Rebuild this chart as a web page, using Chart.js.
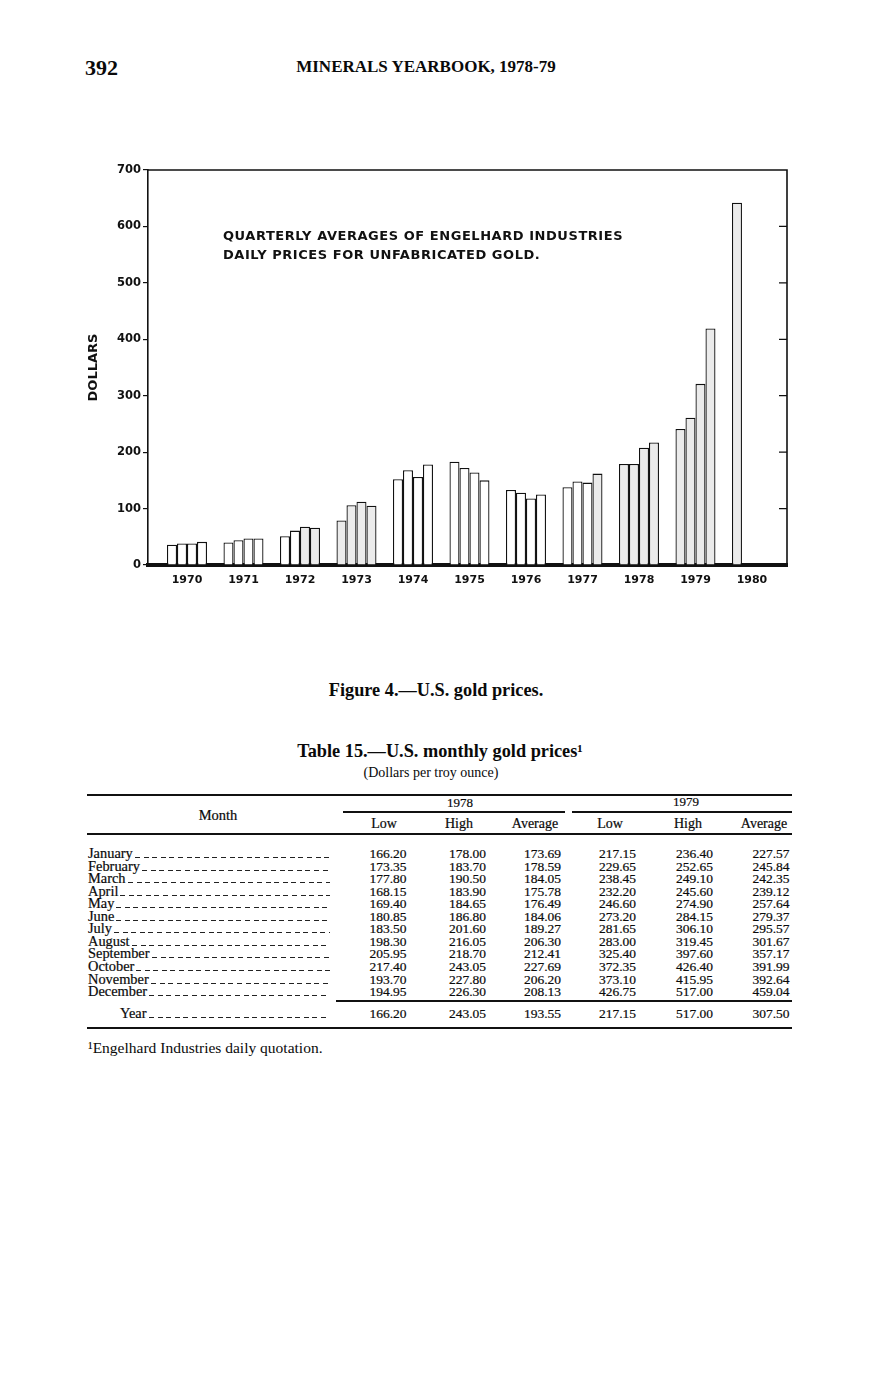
<!DOCTYPE html>
<html>
<head>
<meta charset="utf-8">
<script src="https://cdn.jsdelivr.net/npm/chart.js@4.4.0/dist/chart.umd.min.js"></script>
<style>
  body { margin: 0; background: #fff; }
  #page { position: relative; width: 875px; height: 1380px; color: #0a0a0a; font-family: "Liberation Serif", serif; overflow: hidden; }
  .t { position: absolute; white-space: nowrap; transform: translate(-50%, -50%); line-height: 1; }
  .l { position: absolute; white-space: nowrap; transform: translateY(-50%); line-height: 1; }
  .rule { position: absolute; background: #111; }
  #chartBox { position: absolute; left: 0; top: 130px; width: 875px; height: 480px; }
  #table { -webkit-text-stroke: 0.2px #0a0a0a; }
  .row { position: absolute; display: flex; align-items: flex-end; font-size: 14.4px; line-height: 13px; height: 13px; }
  .lead { flex: 1; height: 1px; margin: 0 0 2px 2px; background: repeating-linear-gradient(to right, #222 0 5px, transparent 5px 8.6px); }
</style>
</head>
<body>
<div id="page">
  <div class="l" style="left:85px; top:68px; font-size:22px; font-weight:bold;">392</div>
  <div class="t" style="left:426px; top:66px; font-size:17px; font-weight:bold;">MINERALS YEARBOOK, 1978-79</div>

  <div id="chartBox"><canvas id="goldChart"></canvas></div>

  <div class="t" style="left:436px; top:690px; font-size:18.3px; font-weight:bold;">Figure 4.—U.S. gold prices.</div>
  <div class="t" style="left:440px; top:751px; font-size:18.3px; font-weight:bold;">Table 15.—U.S. monthly gold prices¹</div>
  <div class="t" style="left:431px; top:773px; font-size:14px;">(Dollars per troy ounce)</div>

  <div id="table"></div>

  <div class="l" style="left:88px; top:1048px; font-size:15.5px;">¹Engelhard Industries daily quotation.</div>
</div>

<script>
// chart data: quarterly averages, dollars
const years = [1970, 1971, 1972, 1973, 1974, 1975, 1976, 1977, 1978, 1979, 1980]
const q1 = [36, 40, 51, 79, 152, 183, 133, 138, 179, 241, 642]
const q2 = [38, 44, 61, 106, 168, 172, 128, 148, 179, 261, null]
const q3 = [38, 47, 68, 112, 156, 164, 118, 146, 208, 321, null]
const q4 = [41, 47, 66, 105, 178, 150, 125, 162, 217, 419, null]
const yTicks = [0, 100, 200, 300, 400, 500, 600, 700]
const noteLines = ['QUARTERLY AVERAGES OF ENGELHARD INDUSTRIES', 'DAILY PRICES FOR UNFABRICATED GOLD.']

// table data
const months = ['January', 'February', 'March', 'April', 'May', 'June', 'July', 'August', 'September', 'October', 'November', 'December']
const low1978 = [166.20, 173.35, 177.80, 168.15, 169.40, 180.85, 183.50, 198.30, 205.95, 217.40, 193.70, 194.95]
const high1978 = [178.00, 183.70, 190.50, 183.90, 184.65, 186.80, 201.60, 216.05, 218.70, 243.05, 227.80, 226.30]
const avg1978 = [173.69, 178.59, 184.05, 175.78, 176.49, 184.06, 189.27, 206.30, 212.41, 227.69, 206.20, 208.13]
const low1979 = [217.15, 229.65, 238.45, 232.20, 246.60, 273.20, 281.65, 283.00, 325.40, 372.35, 373.10, 426.75]
const high1979 = [236.40, 252.65, 249.10, 245.60, 274.90, 284.15, 306.10, 319.45, 397.60, 426.40, 415.95, 517.00]
const avg1979 = [227.57, 245.84, 242.35, 239.12, 257.64, 279.37, 295.57, 301.67, 357.17, 391.99, 392.64, 459.04]
const yearRow = [166.20, 243.05, 193.55, 217.15, 517.00, 307.50]
const subHeads = ['Low', 'High', 'Average', 'Low', 'High', 'Average']

function build_table() {
    let box = document.getElementById('table')
    let html = ''
    let rule = (x, y, w, h) => `<div class="rule" style="left:${x}px;top:${y}px;width:${w}px;height:${h}px"></div>`
    let txt = (x, y, s, size) => `<div class="t" style="left:${x}px;top:${y}px;font-size:${size}px">${s}</div>`

    html += rule(87, 794, 705, 1.6)
    html += rule(343, 811, 222, 1.6)
    html += rule(572, 811, 220, 1.6)
    html += rule(87, 833, 705, 2)
    html += rule(336, 1000, 456, 2)
    html += rule(87, 1027, 705, 2)

    html += txt(218, 815, 'Month', 14.5)
    html += txt(460, 802, '1978', 13)
    html += txt(686, 801, '1979', 13)
    let headX = [384, 459, 535, 610, 688, 764]
    subHeads.forEach((h, i) => { html += txt(headX[i], 824, h, 14) })

    let colX = [388, 467.5, 542.5, 617.5, 694.5, 771]
    let cols = [low1978, high1978, avg1978, low1979, high1979, avg1979]
    months.forEach((m, r) => {
        let y = 854 + r * 12.55
        html += `<div class="row" style="left:88px;top:${y - 7}px;width:242px"><span>${m}</span><span class="lead"></span></div>`
        cols.forEach((c, i) => { html += txt(colX[i], y, c[r].toFixed(2), 13.5) })
    })
    html += `<div class="row" style="left:120px;top:1007px;width:210px"><span>Year</span><span class="lead"></span></div>`
    yearRow.forEach((v, i) => { html += txt(colX[i], 1014, v.toFixed(2), 13.5) })
    box.innerHTML = html
}

const framePlugin = {
    id: 'frame',
    afterDatasetsDraw(chart) {
        let ctx = chart.ctx
        let a = chart.chartArea
        let y = chart.scales.y
        ctx.save()
        ctx.strokeStyle = '#111'
        ctx.lineWidth = 1.6
        ctx.beginPath()
        ctx.moveTo(a.left, a.top)
        ctx.lineTo(a.right, a.top)
        ctx.lineTo(a.right, a.bottom)
        ctx.stroke()
        // inside ticks on the right edge
        ctx.lineWidth = 1.2
        ctx.beginPath()
        yTicks.slice(1, -1).forEach(v => {
            let py = y.getPixelForValue(v)
            ctx.moveTo(a.right - 8, py)
            ctx.lineTo(a.right, py)
        })
        ctx.stroke()
        // note inside the plot
        ctx.fillStyle = '#111'
        ctx.font = 'bold 13px "DejaVu Sans"'
        ctx.letterSpacing = '0.55px'
        ctx.textBaseline = 'middle'
        noteLines.forEach((t, i) => ctx.fillText(t, a.left + 75, a.top + 67 + i * 18.5))
        ctx.restore()
    }
}

function draw_chart() {
    let ctx = document.getElementById('goldChart').getContext('2d')
    let shaded = { 1972: [2, 3], 1973: [0, 1, 2, 3], 1977: [3], 1978: [0, 1, 2, 3], 1979: [0, 1, 2, 3], 1980: [0] }
    let fill = q => (c => {
        let yr = years[c.dataIndex]
        return shaded[yr] && shaded[yr].includes(q) ? '#ebebeb' : '#ffffff'
    })
    let series = [q1, q2, q3, q4]
    new Chart(ctx, {
        type: 'bar',
        data: {
            labels: years,
            datasets: series.map((d, q) => ({
                label: 'Q' + (q + 1),
                data: d,
                backgroundColor: fill(q),
                borderColor: '#111',
                borderWidth: 1.3
            }))
        },
        options: {
            responsive: true,
            maintainAspectRatio: false,
            animation: false,
            layout: { padding: { top: 40, right: 88, bottom: 0, left: 0 } },
            datasets: { bar: { categoryPercentage: 0.708, barPercentage: 1.0 } },
            scales: {
                x: {
                    type: 'linear',
                    offset: false,
                    min: 1969.31,
                    max: 1980.62,
                    grid: { display: false, drawTicks: false },
                    border: { display: true, color: '#111', width: 4 },
                    ticks: {
                        stepSize: 1,
                        includeBounds: false,
                        padding: 9,
                        color: '#111',
                        font: { family: 'DejaVu Sans', size: 11, weight: 'bold' },
                        callback: v => Number.isInteger(v) ? String(v) : ''
                    },
                    afterFit: s => { s.height = 45 }
                },
                y: {
                    min: 0,
                    max: 700,
                    grid: { drawOnChartArea: false, drawTicks: true, tickLength: 5, color: '#111', lineWidth: 1.2 },
                    border: { display: true, color: '#111', width: 1.6 },
                    ticks: {
                        stepSize: 100,
                        padding: 2,
                        color: '#111',
                        font: { family: 'DejaVu Sans', size: 11.5, weight: 'bold' }
                    },
                    title: {
                        display: true,
                        text: 'DOLLARS',
                        color: '#111',
                        padding: { top: 86, bottom: 0 },
                        font: { family: 'DejaVu Sans', size: 13, weight: 'bold' }
                    },
                    afterFit: s => { s.width = 148 }
                }
            },
            plugins: {
                legend: { display: false },
                tooltip: { enabled: false }
            }
        },
        plugins: [framePlugin]
    })
}

document.addEventListener('DOMContentLoaded', function () {
    build_table()
    draw_chart()
})
</script>
</body>
</html>
